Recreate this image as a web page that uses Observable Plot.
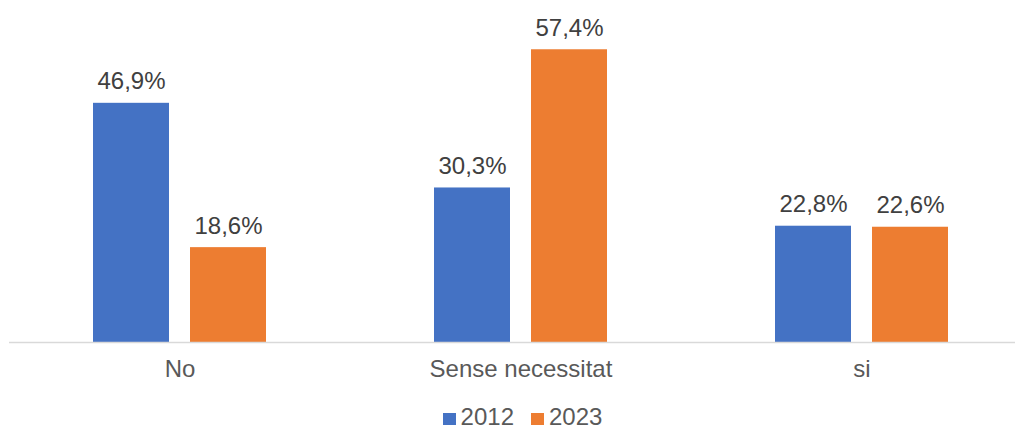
<!DOCTYPE html>
<html>
<head>
<meta charset="utf-8">
<script src="https://cdn.jsdelivr.net/npm/d3@7"></script>
<script src="https://cdn.jsdelivr.net/npm/@observablehq/plot@0.6"></script>
<style>
  html, body { margin: 0; padding: 0; background: #fff; }
  body { width: 1015px; height: 430px; overflow: hidden; position: relative; font-family: "Liberation Sans", Arial, sans-serif; }
  #legend { position: absolute; left: 30px; right: 0; top: 405px; display: flex; justify-content: center; align-items: center; gap: 17px; font-size: 24px; line-height: 24px; color: #595959; height: 24px; }
  #legend .item { display: flex; align-items: center; gap: 5px; }
  #legend .sw { width: 13px; height: 12px; display: inline-block; margin-top: 3px; }
</style>
</head>
<body>
<div id="chart"></div>
<div id="legend"></div>
<script>
const categories = ["No", "Sense necessitat", "si"];
const years = ["2012", "2023"];
const values2012 = [46.9, 30.3, 22.8];
const values2023 = [18.6, 57.4, 22.6];
const colors = ["#4472C4", "#ED7D31"];

const data = [];
categories.forEach((c, i) => {
  data.push({category: c, year: years[0], value: values2012[i]});
  data.push({category: c, year: years[1], value: values2023[i]});
});
const d12 = data.filter(d => d.year === years[0]);
const d23 = data.filter(d => d.year === years[1]);
const fmt = v => v.toFixed(1).replace(".", ",") + "%";

const chart = Plot.plot({
  width: 1015,
  height: 400,
  marginLeft: 9,
  marginRight: 0,
  marginTop: 0,
  marginBottom: 58,
  style: {fontFamily: "'Liberation Sans', Arial, sans-serif", fontSize: "24px", color: "#595959", background: "#fff"},
  x: {domain: categories, range: [9, 1032], padding: 0, label: null, tickSize: 0, tickPadding: 17},
  y: {domain: [0, 60], range: [342, 36], axis: null},
  color: {domain: years, range: colors},
  marks: [
    Plot.barY(d12, {x: "category", y: "value", fill: "year", insetLeft: 84, insetRight: 181}),
    Plot.barY(d23, {x: "category", y: "value", fill: "year", insetLeft: 181, insetRight: 84}),
    Plot.text(d12, {x: "category", y: "value", text: d => fmt(d.value), dx: -48.5, dy: -14, lineAnchor: "bottom", fill: "#404040"}),
    Plot.text(d23, {x: "category", y: "value", text: d => fmt(d.value), dx: 48.5, dy: -14, lineAnchor: "bottom", fill: "#404040"}),
    Plot.ruleY([0], {stroke: "#D9D9D9", strokeWidth: 1.5})
  ]
});
document.getElementById("chart").appendChild(chart);

const legend = document.getElementById("legend");
years.forEach((y, i) => {
  const item = document.createElement("span");
  item.className = "item";
  const sw = document.createElement("span");
  sw.className = "sw";
  sw.style.background = colors[i];
  const t = document.createElement("span");
  t.textContent = y;
  item.appendChild(sw);
  item.appendChild(t);
  legend.appendChild(item);
});
</script>
</body>
</html>
